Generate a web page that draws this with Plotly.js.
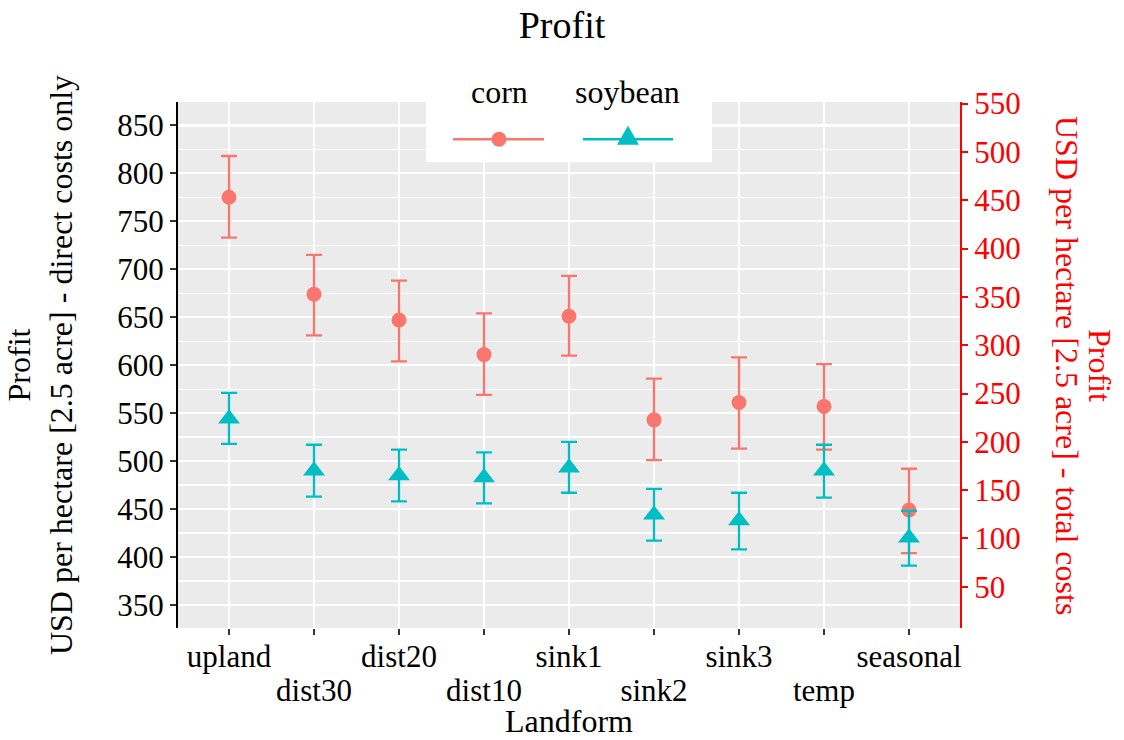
<!DOCTYPE html>
<html>
<head>
<meta charset="utf-8">
<script src="https://cdn.plot.ly/plotly-3.0.1.min.js"></script>
<style>html,body{margin:0;padding:0;background:#fff}#chart{width:1124px;height:740px}</style>
</head>
<body>
<div id="chart"></div>
<script>
const categories = ["upland","dist30","dist20","dist10","sink1","sink2","sink3","temp","seasonal"];
const cornMean  = [775, 674, 647, 611, 651, 543, 561, 557, 449];
const cornLow   = [733, 631, 604, 569, 610, 501, 513, 512, 404];
const cornHigh  = [818, 715, 688, 654, 693, 586, 608, 601, 492];
const soyMean   = [544, 490, 485, 483, 493, 444, 438, 490, 420];
const soyLow    = [518, 463, 458, 456, 467, 417, 408, 462, 391];
const soyHigh   = [571, 517, 512, 509, 520, 471, 467, 517, 448];
const leftTicks  = [350, 400, 450, 500, 550, 600, 650, 700, 750, 800, 850];
const rightTicks = [50, 100, 150, 200, 250, 300, 350, 400, 450, 500, 550];
const seriesNames = ["corn", "soybean"];

// staggered category labels: even-index on the upper row, odd-index on the lower row
const idx = categories.map((c, i) => i);
const upperText = categories.map((c, i) => (i % 2 === 0 ? c : ""));
const lowerVals = idx.filter(i => i % 2 === 1);
const lowerText = lowerVals.map(i => categories[i]);

const FONT = "Liberation Serif, Times New Roman, serif";
const CORN = "#F8766D", SOY = "#00BFC4";

function errs(mean, low, high) {
  return {
    type: "data", symmetric: false,
    array: high.map((h, i) => h - mean[i]),
    arrayminus: mean.map((m, i) => m - low[i]),
    thickness: 2.3, width: 8
  };
}

const traces = [
  {
    x: idx, y: cornMean, name: seriesNames[0], type: "scatter", mode: "markers",
    marker: {color: CORN, size: 15, symbol: "circle"},
    error_y: Object.assign(errs(cornMean, cornLow, cornHigh), {color: CORN}),
    showlegend: false
  },
  {
    x: idx, y: soyMean, name: seriesNames[1], type: "scatter", mode: "markers",
    marker: {color: SOY, size: 19, symbol: "triangle-up"},
    error_y: Object.assign(errs(soyMean, soyLow, soyHigh), {color: SOY}),
    showlegend: false
  },
  { x: [], y: [], yaxis: "y2", type: "scatter", mode: "markers", showlegend: false, hoverinfo: "skip" },
  { x: [], y: [], xaxis: "x2", type: "scatter", mode: "markers", showlegend: false, hoverinfo: "skip" }
];

// legend geometry (paper coords)
const L = {x0: 0.3171, x1: 0.6829, y0: 0.8854, y1: 1.026, keyY: 0.9291, labY: 1.019,
  corn: {c: 0.4105, a: 0.3517, b: 0.468}, soy: {c: 0.5754, a: 0.5179, b: 0.633}};

const shapes = [
  {type: "rect", xref: "paper", yref: "paper", x0: L.x0, x1: L.x1, y0: L.y0, y1: L.y1,
   fillcolor: "#ffffff", line: {width: 0}, layer: "above"},
  {type: "line", xref: "paper", yref: "paper", x0: L.corn.a, x1: L.corn.b, y0: L.keyY, y1: L.keyY,
   line: {color: CORN, width: 2.5}},
  {type: "line", xref: "paper", yref: "paper", x0: L.soy.a, x1: L.soy.b, y0: L.keyY, y1: L.keyY,
   line: {color: SOY, width: 2.5}},
  {type: "circle", xref: "paper", yref: "paper", xsizemode: "pixel", ysizemode: "pixel",
   xanchor: L.corn.c, yanchor: L.keyY, x0: -7.5, x1: 7.5, y0: -7.5, y1: 7.5,
   fillcolor: CORN, line: {width: 0}},
  {type: "path", xref: "paper", yref: "paper", xsizemode: "pixel", ysizemode: "pixel",
   xanchor: L.soy.c, yanchor: L.keyY, path: "M-11,-5.5 L11,-5.5 L0,13.5 Z",
   fillcolor: SOY, line: {width: 0}}
];

const annotations = [
  {text: seriesNames[0], xref: "paper", yref: "paper", x: L.corn.c, y: L.labY, showarrow: false,
   xanchor: "center", yanchor: "middle", font: {family: FONT, size: 32, color: "#000"}},
  {text: seriesNames[1], xref: "paper", yref: "paper", x: L.soy.c, y: L.labY, showarrow: false,
   xanchor: "center", yanchor: "middle", font: {family: FONT, size: 32, color: "#000"}},
  {text: "Profit", xref: "paper", yref: "paper", x: (1100 - 178) / 782, y: 0.5, showarrow: false,
   textangle: 90, xanchor: "center", yanchor: "middle", font: {family: FONT, size: 32, color: "#ff0000"}},
  {text: "USD per hectare [2.5 acre] - total costs", xref: "paper", yref: "paper", x: (1067 - 178) / 782, y: 0.5,
   showarrow: false, textangle: 90, xanchor: "center", yanchor: "middle",
   font: {family: FONT, size: 32, color: "#ff0000"}}
];

const layout = {
  width: 1124, height: 740,
  margin: {l: 178, r: 164, t: 102, b: 112, pad: 0},
  paper_bgcolor: "#ffffff", plot_bgcolor: "#EBEBEB",
  font: {family: FONT, size: 31, color: "#000"},
  showlegend: false,
  title: {text: "Profit", x: 0.5, xanchor: "center", y: 1 - 25 / 740, yanchor: "middle",
          font: {family: FONT, size: 38, color: "#000"}},
  xaxis: {
    range: [-0.6, 8.6],
    tickmode: "array", tickvals: idx, ticktext: upperText, tickangle: 0,
    ticklabelstandoff: -5,
    showgrid: true, gridcolor: "#ffffff", gridwidth: 2.4,
    zeroline: false, showline: false,
    ticks: "outside", ticklen: 6, tickwidth: 2, tickcolor: "#333333",
    tickfont: {family: FONT, size: 31, color: "#000"},
    title: {text: "Landform", font: {family: FONT, size: 32, color: "#000"}, standoff: 36},
    automargin: false
  },
  xaxis2: {
    overlaying: "x", side: "bottom", anchor: "y", matches: "x",
    tickmode: "array", tickvals: lowerVals, ticktext: lowerText, tickangle: 0,
    ticklabelstandoff: 29,
    showgrid: false, zeroline: false, showline: false,
    ticks: "outside", ticklen: 6, tickwidth: 2, tickcolor: "rgba(0,0,0,0)",
    tickfont: {family: FONT, size: 31, color: "#000"},
    automargin: false
  },
  yaxis: {
    range: [326, 874.3], tickmode: "array", tickvals: leftTicks,
    showgrid: true, gridcolor: "#ffffff", gridwidth: 2.4,
    minor: {dtick: 25, showgrid: true, gridcolor: "#ffffff", gridwidth: 1.2, ticks: ""},
    zeroline: false, showline: true, linecolor: "#000000", linewidth: 2,
    ticks: "outside", ticklen: 6, tickwidth: 2, tickcolor: "#333333",
    tickfont: {family: FONT, size: 31, color: "#000"},
    title: {text: "Profit<br>USD per hectare [2.5 acre] - direct costs only",
            font: {family: FONT, size: 32, color: "#000"}, standoff: 35},
    automargin: false
  },
  yaxis2: {
    overlaying: "y", side: "right", anchor: "x",
    range: [7.3, 551.7], tickmode: "array", tickvals: rightTicks,
    showgrid: false, zeroline: false, showline: true, linecolor: "#ff0000", linewidth: 2,
    ticks: "outside", ticklen: 6, tickwidth: 2, tickcolor: "#ff0000",
    tickfont: {family: FONT, size: 31, color: "#ff0000"},
    automargin: false
  },
  shapes: shapes,
  annotations: annotations
};

Plotly.newPlot("chart", traces, layout, {displayModeBar: false, staticPlot: true});
</script>
</body>
</html>
